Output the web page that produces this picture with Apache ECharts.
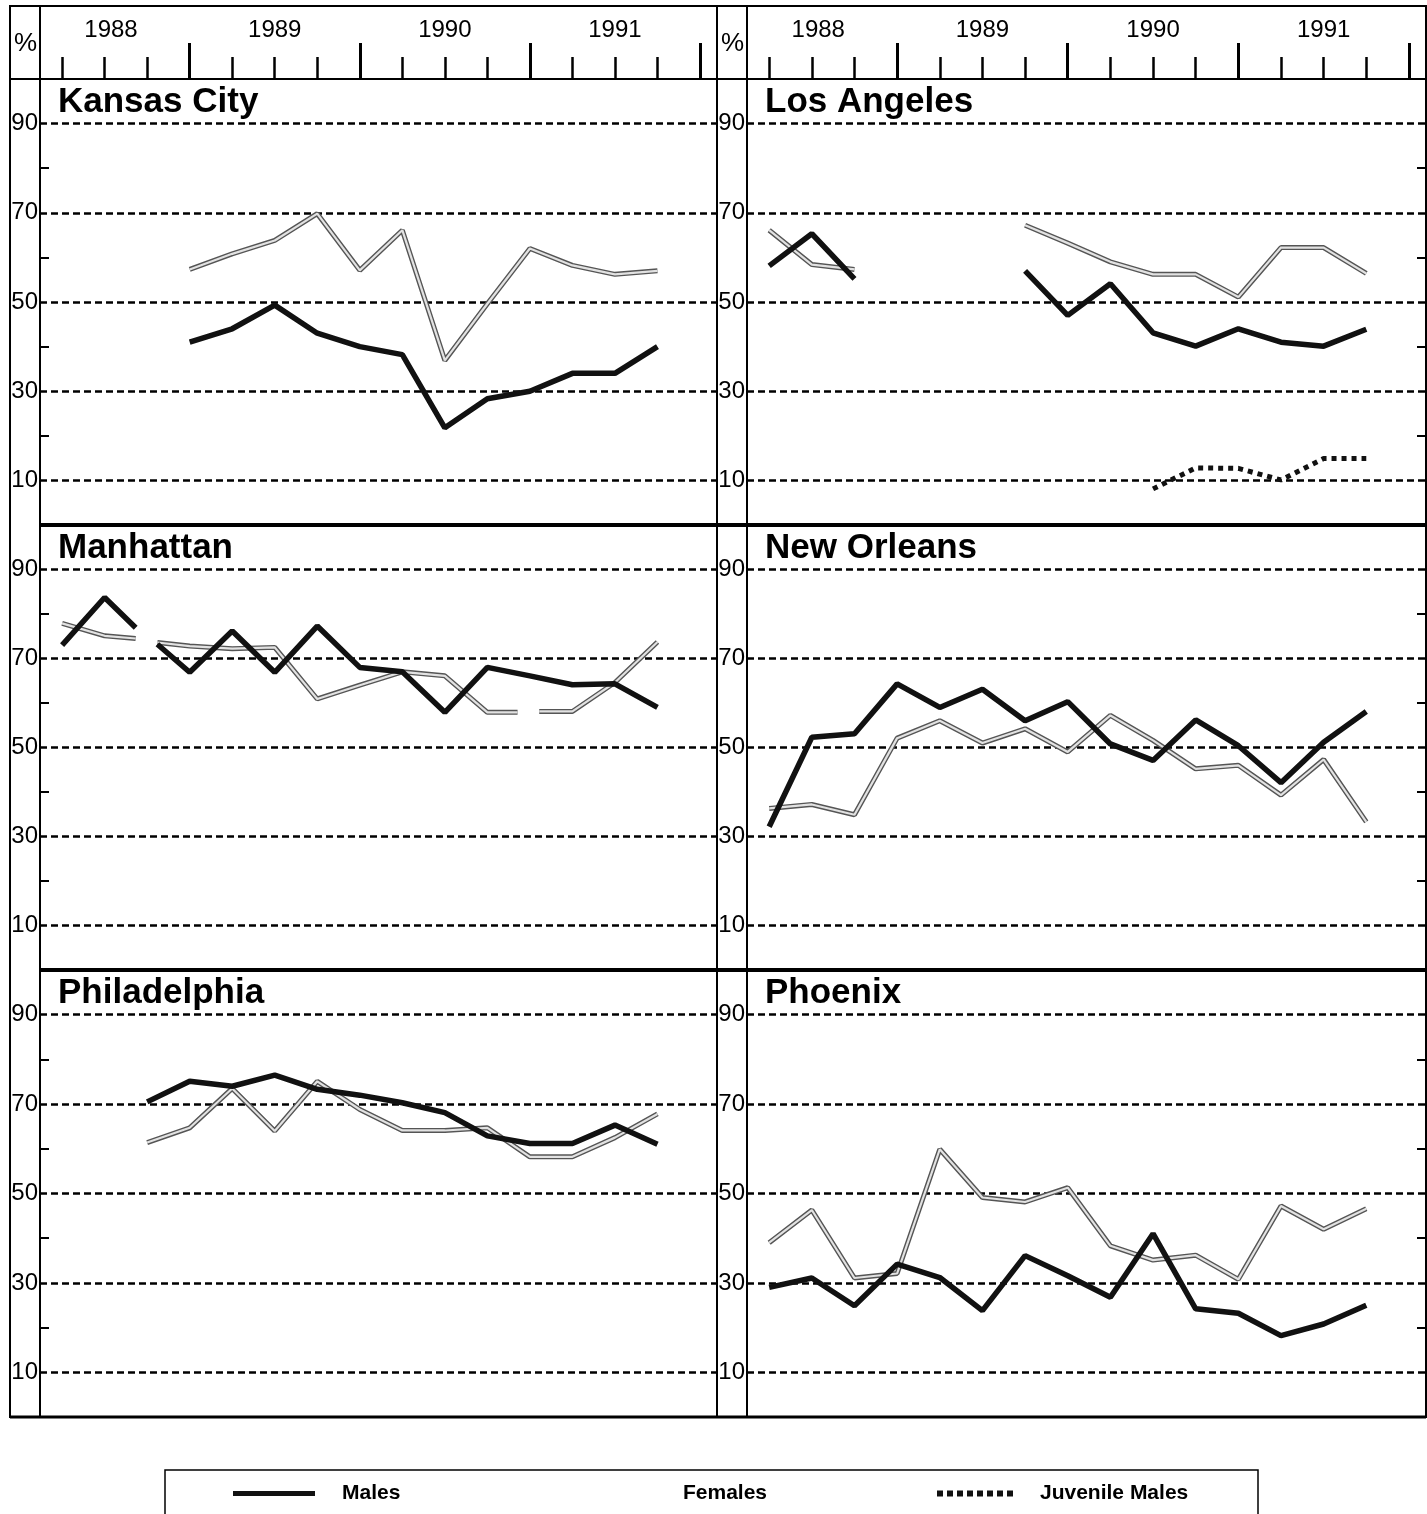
<!DOCTYPE html>
<html>
<head>
<meta charset="utf-8">
<script src="https://cdn.jsdelivr.net/npm/echarts@6/dist/echarts.min.js"></script>
<style>
html,body{margin:0;padding:0;background:#fff;}
#chart{width:1427px;height:1514px;}
</style>
</head>
<body>
<div id="chart"></div>
<script>
// ---------- data ----------
const cities = ['Kansas City', 'Los Angeles', 'Manhattan', 'New Orleans', 'Philadelphia', 'Phoenix'];
const quarterTicks = [0, 1, 2, 3, 4, 5, 6, 7, 8, 9, 10, 11, 12, 13, 14, 15];
const yearTicks = [3, 7, 11, 15];
const yearLabels = ['1988', '1989', '1990', '1991'];
const yearLabelPos = [1.15, 5, 9, 13];
const yTickLabels = [10, 30, 50, 70, 90];
const yMinorTicks = [0, 20, 40, 60, 80, 100];

// values by quarter index (0 = first quarter shown); null = no data
const kcMales      = [null, null, null, 41, 44, 49.3, 43, 40, 38.2, 21.8, 28.3, 30, 34, 34, 40];
const kcFemales    = [null, null, null, 57.3, 60.8, 63.8, 69.8, 57.1, 66.1, 36.9, 49.6, 62, 58.2, 56.2, 57];
const laMales      = [58.1, 65.3, 55.2, null, null, null, 57, 47, 54.1, 43.1, 40.1, 44, 41, 40.1, 43.9];
const laFemales    = [66.1, 58.4, 57.3, null, null, null, 67.2, 63.2, 59, 56.2, 56.2, 51.1, 62.2, 62.2, 56.4];
const laJuvenile   = [null, null, null, null, null, null, null, null, null, 8.1, 12.8, 12.7, 10.1, 14.9, 14.9];
// Manhattan: [quarter, value] pairs, including the visible ends of the broken segments
const manMales     = [[0, 73], [1, 83.7], [1.73, 76.9], [1.98, null], [2.24, 73.2], [3, 66.9], [4, 76.2], [5, 66.9], [6, 77.3], [7, 68], [8, 67], [9, 57.9], [10, 68], [11, 66.1], [12, 64.1], [13, 64.3], [14, 59]];
const manFemales   = [[0, 77.9], [1, 75.1], [1.73, 74.5], [1.98, null], [2.24, 73.6], [3, 72.8], [4, 72.2], [5, 72.5], [6, 60.9], [7, 64], [8, 67], [9, 66.1], [10, 57.9], [10.71, 57.9], [10.96, null], [11.22, 58.1], [12, 58.1], [13, 64.6], [14, 73.7]];
const noMales      = [32.2, 52.3, 53.1, 64.3, 59, 63.1, 56, 60.3, 50.8, 47.1, 56.2, 50.4, 42.1, 51.2, 58.1];
const noFemales    = [36.3, 37.2, 34.9, 52.1, 56, 51, 54.2, 49, 57.2, 51.6, 45.2, 46, 39.3, 47.3, 33.3];
const phMales      = [null, null, 70.5, 75.1, 74, 76.5, 73.3, 72, 70.3, 68.1, 62.9, 61.2, 61.2, 65.3, 61];
const phFemales    = [null, null, 61.4, 64.7, 73.5, 64, 75.1, 68.8, 64.1, 64.1, 64.7, 58.2, 58.2, 62.5, 67.8];
const pxMales      = [29, 31.1, 24.9, 34.2, 31.2, 23.8, 36.1, 31.6, 26.8, 41, 24.2, 23.2, 18.2, 20.8, 25];
const pxFemales    = [39, 46.3, 31.1, 32.1, 59.9, 49.1, 48.1, 51.3, 38.3, 35.1, 36.2, 30.8, 47.2, 42, 46.6];

const panelMales    = [kcMales, laMales, manMales, noMales, phMales, pxMales];
const panelFemales  = [kcFemales, laFemales, manFemales, noFemales, phFemales, pxFemales];
const panelJuvenile = [null, laJuvenile, null, null, null, null];

// ---------- layout ----------
const FONT = "'Liberation Sans', Arial, Helvetica, sans-serif";
const NARROW = "'Liberation Sans Narrow', 'Liberation Sans', Arial, sans-serif";
const colLeft = [40, 747];
const colWidth = [677, 679];
const rowTop = [79, 525, 970];
const rowHeight = [446, 445, 447];
const headerTop = 6, headerHeight = 73;
const xMin = -0.52, xMax = 15.4;

function toPairs(arr) {
  return arr.map((v, i) => {
    const p = Array.isArray(v) ? v : [i, v];
    return [p[0], p[1] == null ? '-' : p[1]];
  });
}

const grids = [], xAxes = [], yAxes = [], series = [], titles = [];

cities.forEach((city, i) => {
  const c = i % 2, r = Math.floor(i / 2);
  grids.push({left: colLeft[c], top: rowTop[r], width: colWidth[c], height: rowHeight[r], show: false});
  xAxes.push({type: 'value', gridIndex: i, min: xMin, max: xMax, show: false});
  yAxes.push({
    type: 'value', gridIndex: i, min: 0, max: 100, position: 'left',
    axisLine: {show: false},
    axisTick: {show: false, customValues: yTickLabels},
    axisLabel: {customValues: yTickLabels, margin: 2, fontSize: 24, color: '#000', fontFamily: NARROW},
    splitLine: {show: true, lineStyle: {color: '#000', width: 2.5, type: [7, 4]}}
  });
  yAxes.push({
    type: 'value', gridIndex: i, min: 0, max: 100, position: c === 0 ? 'left' : 'right',
    axisLine: {show: false},
    axisTick: {show: true, inside: true, length: 9, customValues: yMinorTicks, lineStyle: {color: '#000', width: 2}},
    axisLabel: {show: false},
    splitLine: {show: false}
  });
  titles.push({
    text: city, left: colLeft[c] + 18, top: rowTop[r] + 6, padding: 0,
    textStyle: {fontSize: 35, fontWeight: 'bold', color: '#000', fontFamily: FONT}
  });
  const yi = i * 2;
  series.push({
    type: 'line', name: 'Females', xAxisIndex: i, yAxisIndex: yi, data: toPairs(panelFemales[i]),
    symbol: 'none', connectNulls: false, z: 2, itemStyle: {color: '#555'},
    lineStyle: {color: '#555', width: 5}
  });
  series.push({
    type: 'line', name: 'Females-inner', xAxisIndex: i, yAxisIndex: yi, data: toPairs(panelFemales[i]),
    symbol: 'none', connectNulls: false, z: 3, itemStyle: {color: '#e2e2e2'},
    lineStyle: {color: '#e2e2e2', width: 2.2}
  });
  series.push({
    type: 'line', name: 'Males', xAxisIndex: i, yAxisIndex: yi, data: toPairs(panelMales[i]),
    symbol: 'none', connectNulls: false, z: 4, itemStyle: {color: '#111'},
    lineStyle: {color: '#111', width: 5.5}
  });
  if (panelJuvenile[i]) {
    series.push({
      type: 'line', name: 'Juvenile Males', xAxisIndex: i, yAxisIndex: yi, data: toPairs(panelJuvenile[i]),
      symbol: 'none', connectNulls: false, z: 4, itemStyle: {color: '#111'},
      lineStyle: {color: '#111', width: 5, type: [5, 5], cap: 'butt'}
    });
  }
});

// header grids (year axis)
function yearFormatter(v) {
  let best = 0;
  yearLabelPos.forEach((p, j) => { if (Math.abs(p - v) < Math.abs(yearLabelPos[best] - v)) best = j; });
  return yearLabels[best];
}
[0, 1].forEach(c => {
  grids.push({left: colLeft[c], top: headerTop, width: colWidth[c], height: headerHeight, show: false});
});
[0, 1].forEach(c => {
  xAxes.push({
    type: 'value', gridIndex: 6 + c, min: xMin, max: xMax, position: 'bottom',
    axisLine: {show: false}, splitLine: {show: false},
    axisTick: {show: true, inside: true, length: 22, customValues: quarterTicks, lineStyle: {color: '#000', width: 2.5}},
    axisLabel: {show: true, inside: true, margin: 37, customValues: yearLabelPos, formatter: yearFormatter,
      fontSize: 24, color: '#000', fontFamily: FONT}
  });
});
[0, 1].forEach(c => {
  xAxes.push({
    type: 'value', gridIndex: 6 + c, min: xMin, max: xMax, position: 'bottom',
    axisLine: {show: false}, splitLine: {show: false},
    axisTick: {show: true, inside: true, length: 36, customValues: yearTicks, lineStyle: {color: '#000', width: 3}},
    axisLabel: {show: false}
  });
});
[0, 1].forEach(c => {
  yAxes.push({type: 'value', gridIndex: 6 + c, min: 0, max: 1, show: false});
});

// frame graphics
const L = {stroke: '#000', lineWidth: 2};
const pctFont = '26px ' + FONT;
const graphic = [
  {type: 'rect', shape: {x: 10, y: 6, width: 1416, height: 1411}, style: {fill: 'none', stroke: '#000', lineWidth: 2}, z: 10},
  {type: 'line', shape: {x1: 10, y1: 79, x2: 1426, y2: 79}, style: L, z: 10},
  {type: 'line', shape: {x1: 40, y1: 6, x2: 40, y2: 1417}, style: L, z: 10},
  {type: 'line', shape: {x1: 717, y1: 6, x2: 717, y2: 1417}, style: L, z: 10},
  {type: 'line', shape: {x1: 747, y1: 6, x2: 747, y2: 1417}, style: L, z: 10},
  {type: 'line', shape: {x1: 40, y1: 525, x2: 1426, y2: 525}, style: {stroke: '#000', lineWidth: 4}, z: 10},
  {type: 'line', shape: {x1: 40, y1: 970, x2: 1426, y2: 970}, style: {stroke: '#000', lineWidth: 4}, z: 10},
  {type: 'line', shape: {x1: 10, y1: 1417, x2: 1426, y2: 1417}, style: {stroke: '#000', lineWidth: 3}, z: 10},
  {type: 'text', left: 14, top: 31, style: {text: '%', font: pctFont, fill: '#000'}, z: 10},
  {type: 'text', left: 721, top: 31, style: {text: '%', font: pctFont, fill: '#000'}, z: 10},
  {type: 'rect', shape: {x: 165, y: 1470, width: 1093, height: 70}, style: {fill: 'none', stroke: '#000', lineWidth: 1.5}, z: 10}
];

const dotIcon = 'path://M0,0h6v6h-6z M10,0h6v6h-6z M20,0h6v6h-6z M30,0h6v6h-6z M40,0h6v6h-6z M50,0h6v6h-6z M60,0h6v6h-6z M70,0h6v6h-6z';
const legendText = {fontSize: 21, fontWeight: 'bold', color: '#000', fontFamily: FONT};
const legends = [
  {data: [{name: 'Males', icon: 'rect'}], left: 233, top: 1483, itemWidth: 82, itemHeight: 5, textStyle: Object.assign({padding: [0, 0, 0, 22]}, legendText), padding: 0, selectedMode: false},
  {data: [{name: 'Females', icon: 'rect', itemStyle: {opacity: 0}}], left: 678, top: 1483, itemWidth: 0, itemHeight: 5, textStyle: legendText, padding: 0, selectedMode: false},
  {data: [{name: 'Juvenile Males', icon: dotIcon}], left: 937, top: 1483, itemWidth: 80, itemHeight: 6, textStyle: Object.assign({padding: [0, 0, 0, 20]}, legendText), padding: 0, selectedMode: false}
];

const chart = echarts.init(document.getElementById('chart'), null, {renderer: 'canvas'});
chart.setOption({
  backgroundColor: '#fff',
  animation: false,
  title: titles,
  legend: legends,
  grid: grids,
  xAxis: xAxes,
  yAxis: yAxes,
  series: series,
  graphic: graphic
});
</script>
</body>
</html>
